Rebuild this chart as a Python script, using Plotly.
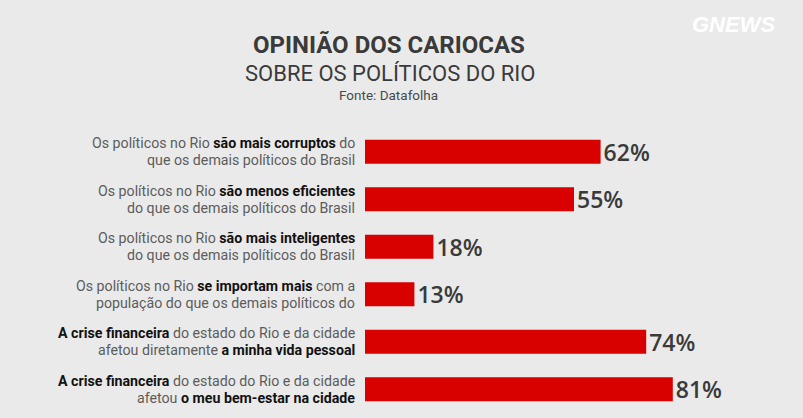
import plotly.graph_objects as go

# ---- data ----
values = [62, 55, 18, 13, 74, 81]
pct_labels = ["62%", "55%", "18%", "13%", "74%", "81%"]
label_line1 = [
    "Os políticos no Rio <b>são mais corruptos</b> do",
    "Os políticos no Rio <b>são menos eficientes</b>",
    "Os políticos no Rio <b>são mais inteligentes</b>",
    "Os políticos no Rio <b>se importam mais</b> com a",
    "<b>A crise financeira</b> do estado do Rio e da cidade",
    "<b>A crise financeira</b> do estado do Rio e da cidade",
]
label_line2 = [
    "que os demais políticos do Brasil",
    "do que os demais políticos do Brasil",
    "do que os demais políticos do Brasil",
    "população do que os demais políticos do",
    "afetou diretamente <b>a minha vida pessoal</b>",
    "afetou <b>o meu bem-estar na cidade</b>",
]
title = "OPINIÃO DOS CARIOCAS"
subtitle = "SOBRE OS POLÍTICOS DO RIO"
source = "Fonte: Datafolha"

W, H = 803, 418
L, R, T, B = 365, 803 - 745, 128, 5
FONT = "Roboto"
BG = "#eaeaea"

def px_x(x):
    return (x - L) / (W - L - R)

def px_y(y):
    return (H - B - y) / (H - T - B)

def bold_color(s):
    return s.replace("<b>", "<b><span style='color:#111111'>").replace("</b>", "</span></b>")

ys = list(range(len(values)))

fig = go.Figure()
fig.add_trace(go.Bar(
    x=values, y=ys, orientation="h",
    marker=dict(color="#d90000", line=dict(width=0)),
    text=pct_labels, textposition="outside", constraintext="none",
    textfont=dict(family="Open Sans", size=23, color="#3a3a3a", weight=600),
    cliponaxis=False, hoverinfo="skip",
))

ann = []
for i in ys:
    ann.append(dict(x=0, y=i, xref="x", yref="y", xanchor="right", yanchor="middle",
                    xshift=-9, yshift=8.5, text=bold_color(label_line1[i]), showarrow=False,
                    font=dict(family=FONT, size=14.2, color="#5c5c5c"), align="right",
                    borderpad=0))
    ann.append(dict(x=0, y=i, xref="x", yref="y", xanchor="right", yanchor="middle",
                    xshift=-9, yshift=-8.5, text=bold_color(label_line2[i]), showarrow=False,
                    font=dict(family=FONT, size=14.2, color="#5c5c5c"), align="right",
                    borderpad=0))

ann.append(dict(x=px_x(389), y=px_y(45), xref="paper", yref="paper", text="<b>" + title + "</b>",
                showarrow=False, xanchor="center", yanchor="middle",
                font=dict(family=FONT, size=24, color="#3a3a3a")))
ann.append(dict(x=px_x(390), y=px_y(73), xref="paper", yref="paper", text=subtitle,
                showarrow=False, xanchor="center", yanchor="middle",
                font=dict(family=FONT, size=22, color="#3a3a3a")))
ann.append(dict(x=px_x(388), y=px_y(95), xref="paper", yref="paper", text=source,
                showarrow=False, xanchor="center", yanchor="middle",
                font=dict(family=FONT, size=13.5, color="#4a4a4a")))
ann.append(dict(x=px_x(733), y=px_y(24), xref="paper", yref="paper", text="<b><i>GNEWS</i></b>",
                showarrow=False, xanchor="center", yanchor="middle",
                font=dict(family="Liberation Sans", size=22, color="#ffffff")))

fig.update_layout(
    width=W, height=H,
    margin=dict(l=L, r=R, t=T, b=B),
    paper_bgcolor=BG, plot_bgcolor=BG,
    bargap=0.494,
    showlegend=False,
    xaxis=dict(range=[0, 100], visible=False, fixedrange=True),
    yaxis=dict(range=[len(values) - 0.5, -0.5], visible=False, fixedrange=True),
    annotations=ann,
)

fig.write_html("out.html", config={"displayModeBar": False})
